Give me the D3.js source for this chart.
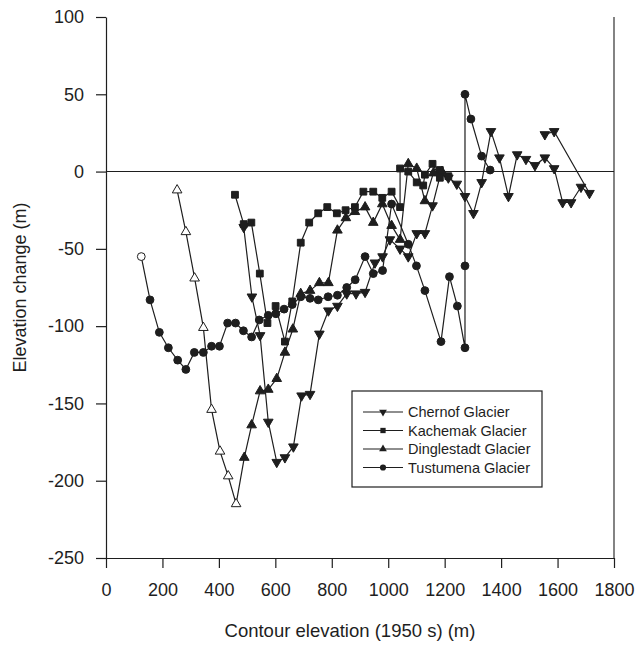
<!DOCTYPE html>
<html><head><meta charset="utf-8">
<script src="https://cdn.jsdelivr.net/npm/d3@7"></script>
<style>html,body{margin:0;padding:0;background:#fff;}svg{display:block;}</style>
</head><body>
<svg id="chart" width="638" height="645"></svg>
<script>
// ---- data ----
const xTicks = [0,200,400,600,800,1000,1200,1400,1600,1800];
const yTicks = [100,50,0,-50,-100,-150,-200,-250];

const chernofX = [488,517,546,575,605,634,664,693,723,756,788,820,853,886,918,953,980,1006,1042,1071,1101,1130,1157,1185,1213,1243,1272,1302,1331,1364,1394,1426,1457,1488,1520,1555,1588,1618,1648,1683,1713,1588,1555];
const chernofY = [-36,-81,-106,-162,-188,-185,-178,-145,-144,-105,-90,-87,-79,-79,-78,-59,-55,-44,-50,-55,-40,-40,-22,-2,-4,-8,-16,-27,-7,26,9,-16,11,8,4,9,2,-20,-20,-10,-14,26,24];

const kachemakX = [457,488,515,545,572,601,634,660,690,720,752,784,818,849,882,912,947,979,1012,1042,1042,1071,1101,1124,1130,1157,1183,1183,1213];
const kachemakY = [-15,-34,-33,-66,-98,-87,-110,-84,-46,-33,-27,-23,-27,-25,-23,-13,-13,-17,-13,-23,2,0,-7,-9,-2,5,-4,1,-3];

const dingOpenX = [252,283,314,345,374,404,433,461];
const dingOpenY = [-12,-39,-69,-101,-154,-181,-197,-215];
const dingX = [490,516,546,575,605,634,662,690,723,756,788,820,850,882,918,947,979,1012,1042,1071,1101,1130,1160,1190];
const dingY = [-185,-164,-142,-141,-134,-117,-102,-79,-77,-72,-72,-38,-30,-26,-23,-33,-21,-35,-44,5,2,-19,-1,0];

const tustOpenX = [125];
const tustOpenY = [-55];
const tustX = [156,189,221,254,283,313,345,374,402,431,459,487,516,543,575,602,631,660,690,723,752,787,820,853,883,918,947,980,1012,1071,1100,1130,1187,1217,1245,1272,1272,1272,1293,1331,1361];
const tustY = [-83,-104,-114,-122,-128,-117,-117,-113,-113,-98,-98,-103,-107,-96,-93,-92,-89,-86,-81,-82,-83,-81,-80,-75,-70,-55,-66,-64,-21,-47,-61,-77,-110,-68,-87,-114,-61,50,34,10,1];

const seriesNames = ["Chernof Glacier","Kachemak Glacier","Dinglestadt Glacier","Tustumena Glacier"];

// ---- drawing ----
const ink = "#1e1e1e";
const svg = d3.select("#chart");
const x = d3.scaleLinear().domain([0,1800]).range([106,614]);
const y = d3.scaleLinear().domain([-250,100]).range([558,17]);

const zip = (a,b)=>a.map((v,i)=>[v,b[i]]);

// zero line
svg.append("line").attr("x1",x(0)).attr("x2",x(1800)).attr("y1",y(0)).attr("y2",y(0))
  .attr("stroke",ink).attr("stroke-width",1.1);
// right frame
svg.append("line").attr("x1",x(1800)).attr("x2",x(1800)).attr("y1",y(100)).attr("y2",y(-250))
  .attr("stroke",ink).attr("stroke-width",1.1);

const font = "Liberation Sans, Arial, sans-serif";
const fmt = d=>String(d);
const xAxis = svg.append("g").attr("transform",`translate(0,${y(-250)})`)
  .call(d3.axisBottom(x).tickValues(xTicks).tickFormat(fmt).tickSize(10).tickPadding(15).tickSizeOuter(0));
const yAxis = svg.append("g").attr("transform",`translate(${x(0)},0)`)
  .call(d3.axisLeft(y).tickValues(yTicks).tickFormat(fmt).tickSize(10).tickPadding(12).tickSizeOuter(0));
[xAxis,yAxis].forEach(g=>{
  g.select(".domain").attr("stroke",ink).attr("stroke-width",1.2);
  g.selectAll(".tick line").attr("stroke",ink).attr("stroke-width",1.2);
  g.selectAll(".tick text").attr("fill",ink).style("font-family",font).style("font-size","18px");
});

svg.append("text").attr("x",350).attr("y",637).attr("text-anchor","middle")
  .style("font-family",font).style("font-size","18.5px").attr("fill",ink)
  .text("Contour elevation (1950 s) (m)");
svg.append("text").attr("transform",`translate(26,${(y(100)+y(-250))/2}) rotate(-90)`)
  .attr("text-anchor","middle").style("font-family",font).style("font-size","18px").attr("fill",ink)
  .text("Elevation change (m)");

const line = d3.line().x(d=>x(d[0])).y(d=>y(d[1]));
const symTri = d3.symbol().type(d3.symbolTriangle).size(40);
const symSq = d3.symbol().type(d3.symbolSquare).size(46);
const symCir = d3.symbol().type(d3.symbolCircle).size(48);

function drawSeries(pts, sym, rot, fill){
  svg.append("g").selectAll("path").data(pts).join("path")
    .attr("d",sym).attr("transform",d=>`translate(${x(d[0])},${y(d[1])}) rotate(${rot})`)
    .attr("fill",fill).attr("stroke",ink).attr("stroke-width",1);
}
const lineStyle = p=>p.attr("fill","none").attr("stroke",ink).attr("stroke-width",1.2);

const chernof = zip(chernofX,chernofY);
const kachemak = zip(kachemakX,kachemakY);
const dingOpen = zip(dingOpenX,dingOpenY);
const ding = zip(dingX,dingY);
const tustOpen = zip(tustOpenX,tustOpenY);
const tust = zip(tustX,tustY);

svg.append("path").datum(chernof).attr("d",line).call(lineStyle);
svg.append("path").datum(kachemak).attr("d",line).call(lineStyle);
svg.append("path").datum(dingOpen.concat(ding)).attr("d",line).call(lineStyle);
svg.append("path").datum(tustOpen.concat(tust)).attr("d",line).call(lineStyle);

drawSeries(chernof, symTri, 180, ink);
drawSeries(kachemak, symSq, 0, ink);
drawSeries(ding, symTri, 0, ink);
drawSeries(dingOpen, symTri, 0, "#fff");
drawSeries(tust, symCir, 0, ink);
drawSeries(tustOpen, symCir, 0, "#fff");

// legend
const lg = svg.append("g");
lg.append("rect").attr("x",352).attr("y",391).attr("width",190).attr("height",96)
  .attr("fill","#fff").attr("stroke",ink).attr("stroke-width",1.2);
const legSyms = [[d3.symbol().type(d3.symbolTriangle).size(26),180],[d3.symbol().type(d3.symbolSquare).size(28),0],[d3.symbol().type(d3.symbolTriangle).size(26),0],[d3.symbol().type(d3.symbolCircle).size(30),0]];
seriesNames.forEach((name,i)=>{
  const yy = 412 + i*18.5;
  lg.append("line").attr("x1",363).attr("x2",403).attr("y1",yy).attr("y2",yy).attr("stroke",ink).attr("stroke-width",1.2);
  lg.append("path").attr("d",legSyms[i][0]).attr("transform",`translate(383,${yy}) rotate(${legSyms[i][1]})`).attr("fill",ink);
  lg.append("text").attr("x",408).attr("y",yy+5).style("font-family",font).style("font-size","14.5px").attr("fill",ink).text(name);
});
</script>
</body></html>
